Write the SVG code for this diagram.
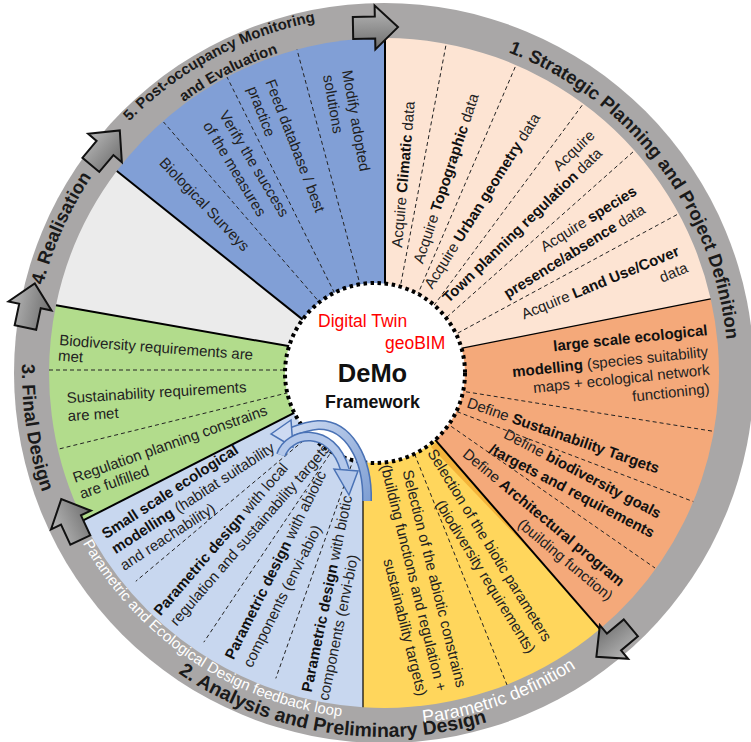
<svg xmlns="http://www.w3.org/2000/svg" xmlns:xlink="http://www.w3.org/1999/xlink" width="751" height="742" viewBox="0 0 751 742">
<style>
.t{font-family:"Liberation Sans",Arial,sans-serif;font-size:15px;fill:#222}
.b{font-weight:bold;fill:#111}
.ring{font-family:"Liberation Sans",Arial,sans-serif;font-weight:bold;fill:#1a1a1a}
.wt{font-family:"Liberation Sans",Arial,sans-serif;fill:#fff}
.dash{stroke:#222;stroke-width:1;stroke-dasharray:4 3;fill:none}
.solid{stroke:#000;stroke-width:2;fill:none}
.thin{stroke:#000;stroke-width:1.2;fill:none}
.red{font-family:"Liberation Sans",Arial,sans-serif;font-size:17.5px;fill:#f00}
</style>
<defs>
<linearGradient id="ag" x1="0" y1="0" x2="0" y2="1"><stop offset="0" stop-color="#b9b9b9"/><stop offset="1" stop-color="#6e6e6e"/></linearGradient>
<linearGradient id="cg" gradientUnits="userSpaceOnUse" x1="280" y1="430" x2="370" y2="500"><stop offset="0" stop-color="#d2def3"/><stop offset="1" stop-color="#7f9fd3"/></linearGradient>
<path id="arr" d="M-22,-11 H0 V-22 L23,0 L0,22 V11 H-22 Z" fill="url(#ag)" stroke="#111" stroke-width="2"/>
<path id="p1" d="M430.7,32.2 A344,344 0 0 1 724.8,419.7"/>
<path id="p4" d="M33.8,408.9 A352,352 0 0 1 177.9,87.7"/>
<path id="p5a" d="M64.5,211.6 A358,358 0 0 1 426.4,17.5"/>
<path id="p5b" d="M100.1,191.4 A337,337 0 0 1 399.3,36.3"/>
<path id="p3" d="M46.3,242.7 A362,362 0 0 0 102.3,600.3"/>
<path id="p2" d="M109.3,611.8 A364,364 0 0 0 571.5,685"/>
<path id="pp" d="M51.7,469.5 A346,346 0 0 0 421.4,717"/>
<path id="pd" d="M321.4,719.4 A352,352 0 0 0 652.6,600.4"/>
</defs>

<g id="ring">
<circle cx="384" cy="373" r="370" fill="#a9a7a7"/>
</g>

<g id="sectors">
<path id="sec-strategic" d="M375,373 L385,300 L385,38 A335,335 0 0 1 710.7,298.9 L448.3,350.9 Z" fill="#fde4d3"/>
<path id="sec-orange" d="M375,373 L448.3,350.9 L710.7,298.9 A335,335 0 0 1 599.9,629.1 L427.2,430.7 Z" fill="#f4a97a"/>
<path id="sec-yellow" d="M375,373 L427.2,430.7 L599.9,629.1 A335,335 0 0 1 363,707.3 L363,450 Z" fill="#ffd65c"/>
<path id="sec-analysis" d="M375,373 L363,450 L363,707.3 A335,335 0 0 1 83.2,520.4 L303.4,408.2 Z" fill="#c8d7ef"/>
<path id="sec-final" d="M375,373 L303.4,408.2 L83.2,520.4 A335,335 0 0 1 56,305.2 L296.8,347.6 Z" fill="#b2dc8c"/>
<path id="sec-realisation" d="M375,373 L296.8,347.6 L56,305.2 A335,335 0 0 1 116.8,171 L308.7,324.4 Z" fill="#ebebeb"/>
<path id="sec-post" d="M375,373 L308.7,324.4 L116.8,171 A335,335 0 0 1 385,38 L385,300 Z" fill="#819fd6"/>
<polygon points="437,442 545,566 431,447" fill="#f5b43a"/>
</g>

<g id="dividers">
<line class="dash" x1="321.5" y1="304.6" x2="163.5" y2="122"/>
<line class="dash" x1="337.5" y1="299" x2="227" y2="77"/>
<line class="dash" x1="360.6" y1="286.7" x2="297" y2="49.6"/>
<line class="dash" x1="397" y1="304.2" x2="446.2" y2="43.8"/>
<line class="dash" x1="411.6" y1="308.7" x2="516" y2="65.1"/>
<line class="dash" x1="425.6" y1="316.7" x2="583.3" y2="103.7"/>
<line class="dash" x1="436.3" y1="326.5" x2="634.5" y2="150.6"/>
<line class="dash" x1="445.6" y1="339.7" x2="678.7" y2="213.7"/>
<line class="dash" x1="452.2" y1="389.6" x2="714" y2="431.4"/>
<line class="dash" x1="444" y1="406.7" x2="693.3" y2="501.6"/>
<line class="dash" x1="439.7" y1="418.4" x2="655" y2="568"/>
<line class="dash" x1="409.4" y1="441.1" x2="507" y2="685"/>
<line class="dash" x1="360.6" y1="439" x2="275.8" y2="678.4"/>
<line class="dash" x1="345.1" y1="431.2" x2="203.8" y2="642.2"/>
<line class="dash" x1="330.4" y1="418" x2="135.8" y2="581.3"/>
<line class="dash" x1="49" y1="370" x2="300" y2="370"/>
<line class="dash" x1="301.6" y1="389.4" x2="57.7" y2="449.3"/>
<line class="solid" x1="385" y1="300" x2="385" y2="38"/>
<line class="thin" x1="448.3" y1="350.9" x2="710.7" y2="298.9"/>
<line class="solid" x1="427.2" y1="430.7" x2="599.9" y2="629.1"/>
<line class="thin" x1="363" y1="450" x2="363" y2="707.3"/>
<line class="solid" x1="303.4" y1="408.2" x2="83.2" y2="520.4"/>
<line class="solid" x1="296.8" y1="347.6" x2="56" y2="305.2"/>
<line class="solid" x1="308.7" y1="324.4" x2="116.8" y2="171"/>
</g>

<g id="node-center">
<circle cx="375" cy="373" r="90" fill="#fff" stroke="#000" stroke-width="4" stroke-dasharray="3.5 3.6"/>
<text class="red" x="318" y="326.5">Digital Twin</text>
<text class="red" x="385" y="349">geoBIM</text>
<text x="372.5" y="381.5" text-anchor="middle" font-family="Liberation Sans, Arial, sans-serif" font-weight="bold" font-size="25.5" fill="#111">DeMo</text>
<text x="372.5" y="408" text-anchor="middle" font-family="Liberation Sans, Arial, sans-serif" font-weight="bold" font-size="17.8" fill="#111">Framework</text>
</g>

<g id="node-1-strategic" class="t">
<text transform="translate(402,248) rotate(-85)">Acquire <tspan class="b">Climatic</tspan> data</text>
<text transform="translate(422.7,264.6) rotate(-71.6)">Acquire <tspan class="b">Topographic</tspan> data</text>
<text transform="translate(432.2,289.7) rotate(-57.8)">Acquire <tspan class="b">Urban geometry</tspan> data</text>
<g transform="translate(448.5,303.6) rotate(-44)"><text x="222" y="-18" text-anchor="end">Acquire</text><text><tspan class="b">Town planning regulation</tspan> data</text></g>
<g transform="translate(544.6,252.2) rotate(-32)"><text>Acquire <tspan class="b">species</tspan></text><text x="-56" y="20"><tspan class="b">presence/absence</tspan> data</text></g>
<g transform="translate(523.9,319.6) rotate(-22.4)"><text>Acquire <tspan class="b">Land Use/Cover</tspan></text><text x="171" y="18.5" text-anchor="end">data</text></g>
</g>

<g id="node-1-definition" class="t">
<text transform="translate(708,335) rotate(-6)" text-anchor="end" class="b">large scale ecological</text>
<text transform="translate(708.5,356.5) rotate(-6)" text-anchor="end"><tspan class="b">modelling</tspan> (species suitability</text>
<text transform="translate(710,374.5) rotate(-6)" text-anchor="end">maps + ecological network</text>
<text transform="translate(710,393.5) rotate(-6)" text-anchor="end">functioning)</text>
<text transform="translate(466,407) rotate(19.2)">Define <tspan class="b">Sustainability Targets</tspan></text>
<g transform="translate(502.7,437.4) rotate(27.7)"><text>Define <tspan class="b">biodiversity goals</tspan></text><text x="-6" y="20.3" class="b">/targets and requirements</text></g>
<g transform="translate(461.8,455.8) rotate(39.8)"><text>Define <tspan class="b">Architectural program</tspan></text><text x="87" y="18.6">(building function)</text></g>
</g>

<g id="node-2-parametric-definition" class="t">
<g transform="translate(543.7,642.6) rotate(58.4)" text-anchor="end"><text>Selection of the biotic parameters</text><text x="1.8" y="20">(biodiversity requirements)</text></g>
<g transform="translate(456.5,688.2) rotate(76)" text-anchor="end"><text>Selection of the abiotic constrains</text><text x="-1" y="20">(building functions and regulation +</text><text x="-1" y="40">sustainability targets)</text></g>
</g>

<g id="node-2-analysis" class="t">
<g transform="translate(311.6,692.7) rotate(-78.3)"><text><tspan class="b">Parametric design</tspan> with biotic</text><text x="-5" y="18">components (envi-bio)</text></g>
<g transform="translate(233.4,660.4) rotate(-63.4)"><text><tspan class="b">Parametric design</tspan> with abiotic</text><text x="1" y="20">components (envi-abio)</text></g>
<g transform="translate(160.5,616.6) rotate(-49.1)"><text><tspan class="b">Parametric design</tspan> with local</text><text x="3" y="19">regulation and sustainability targets</text></g>
<g transform="translate(106,539.2) rotate(-33)"><text class="b">Small scale ecological</text><text y="18"><tspan class="b">modelling</tspan> (habitat suitability</text><text x="-2" y="36.5">and reachability)</text></g>
</g>

<g id="node-3-final" class="t">
<g transform="translate(59,345) rotate(4.4)"><text>Biodiversity requirements are</text><text y="15.5">met</text></g>
<g transform="translate(67,403) rotate(-3.5)"><text>Sustainability requirements</text><text y="18">are met</text></g>
<g transform="translate(75,483) rotate(-19.5)"><text>Regulation planning constrains</text><text x="1" y="17.4">are fulfilled</text></g>
</g>

<g id="node-5-post" class="t">
<text transform="translate(158.4,163.5) rotate(46.3)">Biological Surveys</text>
<g transform="translate(218.7,114.6) rotate(59)"><text>Verify the success</text><text x="1" y="19.4">of the measures</text></g>
<g transform="translate(265.3,81.8) rotate(69)"><text>Feed database / best</text><text y="19.3">practice</text></g>
<g transform="translate(342.1,70.9) rotate(80)"><text>Modify adopted</text><text x="1.6" y="19.6">solutions</text></g>
</g>

<g id="ring-labels">
<text class="ring" font-size="18.5"><textPath href="#p1" startOffset="50%" text-anchor="middle">1. Strategic Planning and Project Definition</textPath></text>
<text class="ring" font-size="18.5"><textPath href="#p4" startOffset="50%" text-anchor="middle">4. Realisation</textPath></text>
<text class="ring" font-size="15"><textPath href="#p5a" startOffset="50%" text-anchor="middle">5. Post-occupancy Monitoring</textPath></text>
<text class="ring" font-size="15"><textPath href="#p5b" startOffset="50%" text-anchor="middle">and Evaluation</textPath></text>
<text class="ring" font-size="18.5"><textPath href="#p3" startOffset="50%" text-anchor="middle">3. Final Design</textPath></text>
<text class="ring" font-size="19.5"><textPath href="#p2" startOffset="50%" text-anchor="middle">2. Analysis and Preliminary Design</textPath></text>
<text class="wt" font-size="15"><textPath href="#pp" startOffset="50%" text-anchor="middle">Parametric and Ecological Design feedback loop</textPath></text>
<text class="wt" font-size="18"><textPath href="#pd" startOffset="50%" text-anchor="middle">Parametric definition</textPath></text>
</g>

<g id="connectors">
<use href="#arr" transform="translate(375,27.5) rotate(-1)"/>
<use href="#arr" transform="translate(614,642) rotate(140)"/>
<use href="#arr" transform="translate(71,520) rotate(245)"/>
<use href="#arr" transform="translate(30,306) rotate(-78)"/>
<use href="#arr" transform="translate(105,148) rotate(-50)"/>
<path d="M367,501 C368,458 348,424 318,425 C306,426 299,429 291,432" fill="none" stroke="#4a72b5" stroke-width="10"/>
<path d="M367,501 C368,458 348,424 318,425 C306,426 299,429 291,432" fill="none" stroke="url(#cg)" stroke-width="7"/>
<polygon points="271,434 291,420 293,447" fill="#cddaf2" stroke="#4a72b5" stroke-width="1.5"/>
<path d="M281,455 C288,432 332,424 345,470" fill="none" stroke="#4a72b5" stroke-width="10"/>
<path d="M281,455 C288,432 332,424 345,470" fill="none" stroke="#b4c8ea" stroke-width="7"/>
<polygon points="349,495 334,469 358,471" fill="#b4c8ea" stroke="#4a72b5" stroke-width="1.5"/>
</g>
</svg>
